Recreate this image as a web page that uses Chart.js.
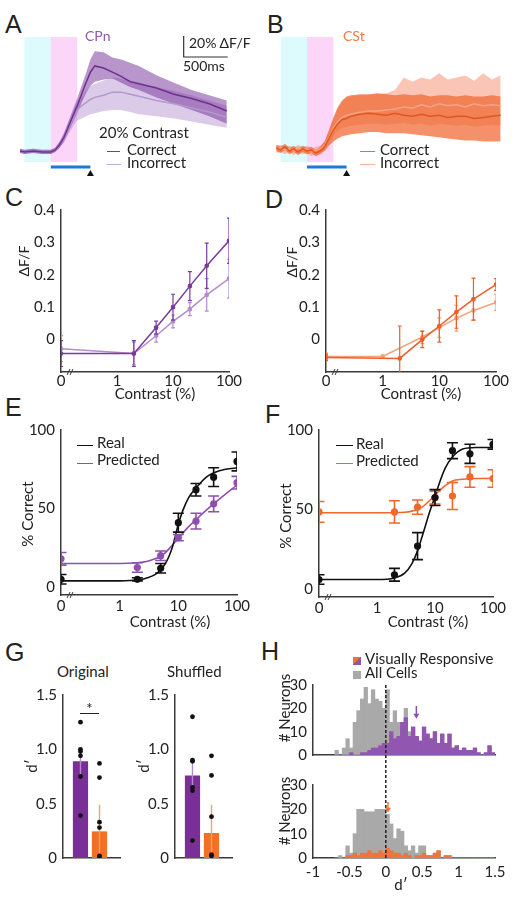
<!DOCTYPE html>
<html lang="en">
<head>
<meta charset="UTF-8">
<title>Figure</title>
<script src="https://cdn.jsdelivr.net/npm/chart.js"></script>
<style>
  body { margin: 0; background: #fff; width: 518px; height: 900px; position: relative; overflow: hidden;
         font-family: Lato, "Open Sans", sans-serif; color: #222; }
  canvas { position: absolute; }
  .t { position: absolute; white-space: nowrap; line-height: 1; font-size: 15px; }
  .s14 { font-size: 14px; }
  .L { font-family: "Liberation Sans", Arial, sans-serif; font-size: 25px; }
  .c { transform: translateX(-50%); }
  .r { transform: translate(-50%, -50%) rotate(-90deg); }
  .ln { position: absolute; height: 0; border-top: 1.6px solid; }
  .sq { position: absolute; width: 8px; height: 8px; }
</style>
</head>
<body>
<!-- panel letters -->
<div class="t L" style="left:5px;top:12px">A</div>
<div class="t L" style="left:267px;top:12px">B</div>
<div class="t L" style="left:5px;top:185px">C</div>
<div class="t L" style="left:265px;top:187px">D</div>
<div class="t L" style="left:5px;top:395px">E</div>
<div class="t L" style="left:265px;top:402px">F</div>
<div class="t L" style="left:5px;top:640px">G</div>
<div class="t L" style="left:261px;top:639px">H</div>

<canvas id="chA" width="220" height="150" style="left:20px;top:30px"></canvas>
<canvas id="chB" width="230" height="150" style="left:276px;top:30px"></canvas>
<canvas id="chC" width="250" height="220" style="left:0;top:195px"></canvas>
<canvas id="chD" width="250" height="220" style="left:265px;top:195px"></canvas>
<canvas id="chE" width="258" height="225" style="left:0;top:415px"></canvas>
<canvas id="chF" width="258" height="225" style="left:258px;top:415px"></canvas>
<canvas id="chG1" width="125" height="200" style="left:0;top:680px"></canvas>
<canvas id="chG2" width="125" height="200" style="left:112px;top:680px"></canvas>
<canvas id="chH1" width="255" height="100" style="left:258px;top:670px"></canvas>
<canvas id="chH2" width="255" height="130" style="left:258px;top:770px"></canvas>

<!-- A / B labels -->
<div class="t s14" style="left:85px;top:29px;color:#9058b0">CPn</div>
<div class="t s14" style="left:189px;top:36px">20% ΔF/F</div>
<div class="t s14" style="left:183px;top:59px">500ms</div>
<div class="t" style="left:99px;top:125px">20% Contrast</div>
<div class="ln" style="left:107px;top:151px;width:13px;color:#7a3b9a"></div>
<div class="t" style="left:127px;top:142px">Correct</div>
<div class="ln" style="left:107px;top:164px;width:14px;color:#c6a9da"></div>
<div class="t" style="left:127px;top:155px">Incorrect</div>
<div class="t s14" style="left:343px;top:29px;color:#f07a45">CSt</div>
<div class="ln" style="left:360px;top:151px;width:15px;color:#ee6a35"></div>
<div class="t" style="left:380px;top:142px">Correct</div>
<div class="ln" style="left:360px;top:164px;width:15px;color:#f6b49a"></div>
<div class="t" style="left:380px;top:155px">Incorrect</div>

<!-- C / D labels -->
<div class="t s14 r" style="left:24px;top:261px">ΔF/F</div>
<div class="t s14 r" style="left:292px;top:262px">ΔF/F</div>
<div class="t c" style="left:155px;top:386px">Contrast (%)</div>
<div class="t c" style="left:421px;top:386px">Contrast (%)</div>

<!-- E / F labels -->
<div class="t r" style="left:27px;top:514px">% Correct</div>
<div class="t r" style="left:285px;top:516px">% Correct</div>
<div class="t c" style="left:170px;top:614px">Contrast (%)</div>
<div class="t c" style="left:428px;top:614px">Contrast (%)</div>
<div class="ln" style="left:77px;top:445px;width:16px;color:#111"></div>
<div class="t" style="left:97px;top:435px">Real</div>
<div class="ln" style="left:77px;top:463px;width:16px;color:#8e4fb0"></div>
<div class="t" style="left:97px;top:452px">Predicted</div>
<div class="ln" style="left:336px;top:445px;width:17px;color:#111"></div>
<div class="t" style="left:356px;top:436px">Real</div>
<div class="ln" style="left:336px;top:463px;width:17px;color:#f0682c"></div>
<div class="t" style="left:356px;top:453px">Predicted</div>

<!-- G labels -->
<div class="t" style="left:57px;top:664px">Original</div>
<div class="t" style="left:167px;top:664px">Shuffled</div>
<div class="t r" style="left:31px;top:766px">d′</div>
<div class="t r" style="left:143px;top:766px">d′</div>
<div class="ln" style="left:80px;top:713px;width:19px;color:#222;border-top-width:1.2px"></div>
<div class="t c" style="left:89.5px;top:701px">*</div>

<!-- H labels -->
<div class="sq" style="left:353px;top:657px;background:linear-gradient(135deg,#f0743a 50%,#9156b0 50%)"></div>
<div class="t" style="left:365px;top:651px">Visually Responsive</div>
<div class="sq" style="left:353px;top:671px;background:#a9a9a9"></div>
<div class="t" style="left:365px;top:665px">All Cells</div>
<div class="t r" style="left:284px;top:708px"># Neurons</div>
<div class="t r" style="left:284px;top:811px"># Neurons</div>
<div class="t c" style="left:401px;top:877px">d′</div>

<script>
    // ---- A: CPn traces, 20% contrast (time in s, dF/F as fraction)
    const aTime = [-0.35, -0.3, -0.2, -0.1, 0, 0.05, 0.1, 0.15, 0.2, 0.25, 0.3, 0.35, 0.4, 0.45, 0.5, 0.6, 0.7, 0.8, 0.9, 1.0, 1.2, 1.4, 1.6, 1.8, 2.0];
    const aCorrMean = [0.01, 0, 0.01, 0, 0, 0.02, 0.07, 0.14, 0.24, 0.34, 0.44, 0.55, 0.66, 0.76, 0.82, 0.80, 0.76, 0.72, 0.67, 0.65, 0.61, 0.55, 0.51, 0.46, 0.39];
    const aCorrHi = [0.03, 0.02, 0.03, 0.02, 0.02, 0.04, 0.10, 0.18, 0.29, 0.40, 0.51, 0.63, 0.75, 0.88, 0.96, 0.95, 0.90, 0.88, 0.85, 0.82, 0.73, 0.66, 0.59, 0.54, 0.49];
    const aCorrLo = [-0.01, -0.02, -0.01, -0.02, -0.02, 0.00, 0.04, 0.10, 0.19, 0.28, 0.37, 0.47, 0.56, 0.63, 0.67, 0.69, 0.70, 0.66, 0.62, 0.59, 0.52, 0.46, 0.40, 0.34, 0.27];
    const aIncMean = [0.01, 0, 0.01, 0, 0, 0.02, 0.07, 0.13, 0.22, 0.31, 0.40, 0.44, 0.47, 0.50, 0.52, 0.54, 0.57, 0.57, 0.55, 0.53, 0.49, 0.46, 0.42, 0.38, 0.33];
    const aIncHi = [0.03, 0.02, 0.03, 0.02, 0.02, 0.04, 0.09, 0.16, 0.26, 0.36, 0.45, 0.52, 0.58, 0.63, 0.65, 0.68, 0.71, 0.70, 0.68, 0.66, 0.62, 0.58, 0.54, 0.49, 0.44];
    const aIncLo = [-0.01, -0.02, -0.01, -0.02, -0.02, 0.00, 0.04, 0.09, 0.17, 0.24, 0.30, 0.32, 0.34, 0.36, 0.37, 0.39, 0.40, 0.40, 0.38, 0.36, 0.34, 0.32, 0.29, 0.26, 0.23];

    // ---- B: CSt traces
    const bTime = [-0.35, -0.3, -0.25, -0.2, -0.15, -0.1, -0.05, 0, 0.05, 0.1, 0.15, 0.2, 0.25, 0.3, 0.35, 0.4, 0.45, 0.5, 0.6, 0.7, 0.8, 0.9, 1.0, 1.1, 1.2, 1.3, 1.4, 1.5, 1.6, 1.7, 1.8, 1.9, 2.0, 2.1, 2.2];
    const bCorrMean = [0.03, 0.01, 0.04, 0.00, 0.02, -0.01, 0.02, 0.00, 0.01, -0.02, 0.00, 0.04, 0.12, 0.20, 0.26, 0.30, 0.31, 0.33, 0.35, 0.36, 0.35, 0.34, 0.36, 0.34, 0.33, 0.35, 0.33, 0.34, 0.32, 0.33, 0.33, 0.31, 0.32, 0.33, 0.34];
    const bCorrHi = [0.06, 0.04, 0.07, 0.03, 0.05, 0.02, 0.05, 0.03, 0.04, 0.01, 0.04, 0.09, 0.20, 0.32, 0.42, 0.48, 0.52, 0.53, 0.54, 0.54, 0.55, 0.54, 0.53, 0.54, 0.53, 0.54, 0.52, 0.53, 0.53, 0.52, 0.53, 0.52, 0.52, 0.53, 0.52];
    const bCorrLo = [0.00, -0.02, 0.01, -0.03, -0.01, -0.04, -0.01, -0.03, -0.02, -0.05, -0.03, 0.00, 0.05, 0.09, 0.12, 0.14, 0.15, 0.16, 0.17, 0.18, 0.18, 0.17, 0.17, 0.17, 0.16, 0.15, 0.14, 0.13, 0.12, 0.11, 0.10, 0.10, 0.09, 0.09, 0.09];
    const bIncMean = [0.02, 0.03, 0.01, 0.02, 0.00, 0.03, 0.01, 0.02, -0.01, 0.01, 0.02, 0.05, 0.13, 0.22, 0.28, 0.32, 0.34, 0.35, 0.37, 0.38, 0.38, 0.39, 0.40, 0.42, 0.41, 0.44, 0.42, 0.45, 0.43, 0.44, 0.42, 0.45, 0.43, 0.44, 0.43];
    const bIncHi = [0.05, 0.06, 0.04, 0.05, 0.03, 0.06, 0.04, 0.05, 0.02, 0.04, 0.05, 0.09, 0.19, 0.30, 0.40, 0.47, 0.51, 0.52, 0.53, 0.53, 0.54, 0.55, 0.58, 0.70, 0.66, 0.70, 0.68, 0.74, 0.68, 0.70, 0.72, 0.67, 0.74, 0.68, 0.72];
    const bIncLo = [-0.02, -0.01, -0.03, -0.01, -0.04, -0.01, -0.03, -0.02, -0.05, -0.03, -0.02, 0.01, 0.07, 0.14, 0.19, 0.22, 0.23, 0.24, 0.25, 0.26, 0.26, 0.25, 0.26, 0.27, 0.25, 0.26, 0.24, 0.26, 0.25, 0.24, 0.25, 0.23, 0.24, 0.25, 0.24];

    // ---- C / D: dF/F vs contrast
    const contrasts = [0, 2, 5, 10, 20, 40, 100];
    const contrastTicks = [0, 1, 10, 100];
    const cCorr = [-0.043, -0.043, 0.037, 0.10, 0.165, 0.228, 0.305];
    const cCorrErr = [0.04, 0.04, 0.02, 0.04, 0.045, 0.07, 0.07];
    const cInc = [-0.028, -0.043, 0.012, 0.056, 0.094, 0.138, 0.188];
    const cIncErr = [0.04, 0.035, 0.02, 0.02, 0.02, 0.05, 0.06];
    const dCorr = [-0.055, -0.058, 0.0, 0.042, 0.085, 0.125, 0.17];
    const dCorrErr = [0.01, 0.1, 0.025, 0.05, 0.05, 0.065, 0.018];
    const dIncContrasts = [0, 1, 5, 10, 20, 40, 100];
    const dInc = [-0.052, -0.052, 0.008, 0.037, 0.066, 0.09, 0.115];
    const dIncErr = [0.01, null, 0.02, 0.03, 0.04, 0.03, 0.025];

    // ---- E / F: % correct, real vs predicted
    const eReal = [5, 5, 12, 41, 62, 70, 80];
    const eRealErr = [3, 1, 3, 6, 4, 6, 6];
    const ePred = [18, 12.5, 20, 31.5, 42, 53, 66.5];
    const ePredErr = [4, 3, 3, 2, 5, 5, 4];
    const fitContrasts = [0, 1, 2, 3, 4, 5, 6, 7, 8, 10, 12, 15, 20, 30, 50, 100];
    const eFitReal = [4, 4, 4.5, 6, 8, 11, 15, 20, 26, 40, 49, 57, 63, 70, 74, 76];
    const eFitPred = [15, 15, 15.5, 16.5, 18, 19.5, 22, 24.5, 27, 31, 34.5, 38.5, 43, 49, 56, 65];
    const fReal = [6, 9, 27, 57.5, 87, 85, 91];
    const fRealErr = [3, 4, 8.5, 5, 5, 6, 3];
    const fPred = [48.5, 48.5, 51.5, 57.5, 58.5, 70.5, 69.5];
    const fPredErr = [6.5, 7, 4.5, 4, 8.5, 6.5, 5.5];
    const fFitReal = [6, 6, 7, 10, 16, 24, 33, 41, 48, 58, 67, 76, 83, 88, 89, 89];
    const fFitPred = [48, 48, 48, 48.3, 49, 50, 51.5, 53.5, 55.5, 59, 62, 65, 68, 69, 69.5, 69.5];

    // ---- G: decoder d' (CPn, CSt)
    const gGroups = [1, 2];
    const gOrigMean = [0.89, 0.245];
    const gOrigErr = [0.13, 0.245];
    const gOrigCPn = [1.25, 1.0, 0.98, 0.94, 0.75, 0.39];
    const gOrigCSt = [0.87, 0.74, 0.33, 0.28, 0.02, 0.01];
    const gShufMean = [0.76, 0.23];
    const gShufErr = [0.13, 0.26];
    const gShufCPn = [1.3, 0.9, 0.89, 0.65, 0.62, 0.16];
    const gShufCSt = [0.94, 0.76, 0.38, 0.03, 0.02];

    // ---- H: d' histograms (bin centres, width 0.05)
    const hBins = [-0.675, -0.625, -0.575, -0.525, -0.475, -0.425, -0.375, -0.325, -0.275, -0.225, -0.175, -0.125, -0.075, -0.025, 0.025, 0.075, 0.125, 0.175, 0.225, 0.275, 0.325, 0.375, 0.425, 0.475, 0.525, 0.575, 0.625, 0.675, 0.725, 0.775, 0.825, 0.875, 0.925, 0.975, 1.025, 1.075, 1.125, 1.175, 1.225, 1.275, 1.325, 1.375, 1.425, 1.475];
    const hTopVR = [0, 0, 0, 0, 1, 0, 0, 1, 1, 2, 3, 3, 4, 5, 5, 10, 7, 8, 14, 16, 8, 12, 8, 6, 12, 9, 7, 10, 5, 9, 5, 9, 3, 4, 2, 3, 2, 2, 3, 1, 0, 1, 4, 1];
    const hTopAll = [2, 0, 3, 7, 3, 14, 19, 24, 29, 22, 28, 24, 23, 20, 28, 14, 19, 14, 14, 20, 10, 12, 8, 6, 12, 9, 7, 10, 5, 9, 5, 9, 3, 4, 2, 3, 2, 2, 3, 1, 0, 1, 4, 1];
    const hBotVR = [0, 0, 0, 1, 1, 2, 1, 2, 2, 3, 2, 2, 3, 2, 4, 3, 2, 2, 1, 2, 1, 0, 1, 1, 2, 1, 1, 2, 3, 0, 1, 1, 0, 0, 0, 0, 0, 0, 0, 0, 0, 0, 0, 0];
    const hBotAll = [0, 1, 0, 5, 2, 10, 20, 20, 19, 19, 19, 20, 20, 20, 18, 14, 8, 12, 11, 5, 3, 5, 2, 5, 5, 1, 1, 2, 3, 0, 1, 1, 0, 0, 0, 0, 0, 0, 0, 0, 0, 0, 0, 0];
    const hTopArrow = 0.42;   // mean d' CPn
    const hBotArrow = 0.03;   // mean d' CSt

    const xZero = 0.1; // where contrast 0 sits on the log axis
    const AX = '#3a3a3a';
    const PURPLE = '#7a3b9a', PURPLE_L = '#b48cd0', ORANGE = '#ee5f27', ORANGE_L = '#f5a27a';

    Chart.defaults.font.family = 'Lato, "Open Sans", sans-serif';
    Chart.defaults.font.size = 15;
    Chart.defaults.color = '#222';
    Chart.defaults.animation = false;
    Chart.defaults.responsive = false;
    Chart.defaults.plugins.legend.display = false;
    Chart.defaults.plugins.tooltip.enabled = false;

    const fixW = w => s => { s.width = w; };
    const fixH = h => s => { s.height = h; };
    const setTicks = vals => s => { s.ticks = vals.map(v => ({ value: v })); };
    const pts = (xs, ys) => xs.map((x, i) => ({ x, y: ys[i] }));
    const cpts = (xs, ys) => xs.map((c, i) => ({ x: c === 0 ? xZero : c, y: ys[i] }));

    function yScale(min, max, w, ticks, fmt) {
        return {
            type: 'linear', min, max, afterFit: fixW(w), afterBuildTicks: setTicks(ticks),
            grid: { display: false, drawTicks: false }, border: { color: AX, width: 1.5 },
            ticks: { padding: 6, callback: fmt || (v => String(v)) }
        };
    }
    function logX(h, pad) {
        return {
            type: 'logarithmic', min: xZero, max: 100, afterFit: fixH(h),
            afterBuildTicks: setTicks(contrastTicks.map(c => c === 0 ? xZero : c)),
            grid: { display: false, drawTicks: false }, border: { color: AX, width: 1.5 },
            ticks: { padding: pad, autoSkip: false, maxRotation: 0, callback: v => v === xZero ? '0' : String(v) }
        };
    }

    // vertical error bars, drawn right after their own dataset so later marks sit on top
    const errorBars = {
        id: 'errorBars',
        afterDatasetDraw(chart, args) {
            const ds = chart.data.datasets[args.index];
            if (!ds.errors) return;
            const { ctx, chartArea: a, scales: { y } } = chart;
            ctx.save();
            ctx.beginPath();
            ctx.rect(a.left, a.top - 3, a.right - a.left, a.bottom - a.top + 3);
            ctx.clip();
            args.meta.data.forEach((el, j) => {
                const e = ds.errors[j];
                if (e == null) return;
                const v = ds.data[j].y;
                const x = el.x, y1 = y.getPixelForValue(v + e), y2 = y.getPixelForValue(v - e);
                const c = (ds.capWidth || 0) / 2;
                ctx.strokeStyle = Array.isArray(ds.errorColor) ? ds.errorColor[j] : (ds.errorColor || ds.borderColor);
                ctx.lineWidth = ds.errorWidth || 1.3;
                ctx.beginPath();
                ctx.moveTo(x, y1); ctx.lineTo(x, y2);
                if (c) {
                    ctx.moveTo(x - c, y1); ctx.lineTo(x + c, y1);
                    ctx.moveTo(x - c, y2); ctx.lineTo(x + c, y2);
                }
                ctx.stroke();
            });
            ctx.restore();
        }
    };

    // little "//" break near the zero position on the log axis
    const axisBreak = {
        id: 'axisBreak',
        afterDraw(chart) {
            const { ctx, chartArea: a } = chart;
            const y = a.bottom, x = a.left + 9;
            ctx.save();
            ctx.strokeStyle = AX; ctx.lineWidth = 1;
            ctx.beginPath();
            ctx.moveTo(x - 3, y + 3); ctx.lineTo(x, y - 3);
            ctx.moveTo(x, y + 3); ctx.lineTo(x + 3, y - 3);
            ctx.stroke();
            ctx.restore();
        }
    };

    // stimulus shading, stimulus bar, response marker and scale bar for A/B
    const stim = {
        id: 'stim',
        beforeDraw(chart, args, o) {
            const { ctx, scales: { x, y } } = chart;
            const t = y.getPixelForValue(o.top), b = y.getPixelForValue(o.bottom);
            o.bands.forEach(bd => {
                const l = x.getPixelForValue(bd.from), r = x.getPixelForValue(bd.to);
                ctx.fillStyle = bd.color;
                ctx.fillRect(l, t, r - l, b - t);
            });
        },
        afterDraw(chart, args, o) {
            const { ctx, scales: { x, y } } = chart;
            ctx.save();
            const by = y.getPixelForValue(o.barY);
            ctx.strokeStyle = '#1b7bd4'; ctx.lineWidth = 3;
            ctx.beginPath();
            ctx.moveTo(x.getPixelForValue(0), by); ctx.lineTo(x.getPixelForValue(o.barEnd), by);
            ctx.stroke();
            const mx = x.getPixelForValue(o.barEnd), my = y.getPixelForValue(o.markY);
            ctx.fillStyle = '#111';
            ctx.beginPath();
            ctx.moveTo(mx, my - 3); ctx.lineTo(mx + 3.5, my + 3); ctx.lineTo(mx - 3.5, my + 3);
            ctx.closePath(); ctx.fill();
            if (o.scaleBar) {
                const s = o.scaleBar;
                const x0 = x.getPixelForValue(s.x), y0 = y.getPixelForValue(s.y);
                ctx.strokeStyle = '#333'; ctx.lineWidth = 1.2;
                ctx.beginPath();
                ctx.moveTo(x0, y.getPixelForValue(s.y + s.dy)); ctx.lineTo(x0, y0);
                ctx.lineTo(x.getPixelForValue(s.x + s.dx), y0);
                ctx.stroke();
            }
            ctx.restore();
        }
    };

    function trace(t, vals, color) {
        return { data: pts(t, vals), borderColor: color, borderWidth: 1.5, pointRadius: 0, fill: false };
    }
    function band(t, hi, lo, color) {
        return [
            { data: pts(t, hi), fill: '+1', backgroundColor: color, borderWidth: 0, pointRadius: 0 },
            { data: pts(t, lo), fill: false, borderWidth: 0, pointRadius: 0 }
        ];
    }
    function traceChart(id, t, sets, xr, yr, stimOpts) {
        new Chart(document.getElementById(id), {
            type: 'line',
            data: { datasets: sets },
            options: {
                layout: { padding: 0 },
                scales: {
                    x: { type: 'linear', display: false, min: xr[0], max: xr[1] },
                    y: { display: false, min: yr[0], max: yr[1] }
                },
                plugins: { filler: { drawTime: 'beforeDatasetsDraw', propagate: false }, stim: stimOpts }
            },
            plugins: [stim]
        });
    }

    const stimBands = [{ from: -0.3, to: 0, color: '#ddfbfd' }, { from: 0, to: 0.3, color: '#fbd6f8' }];

    traceChart('chA', aTime, [
        trace(aTime, aCorrMean, '#6e3090'),
        trace(aTime, aIncMean, '#b696cc'),
        ...band(aTime, aCorrHi, aCorrLo, 'rgba(125, 62, 160, 0.55)'),
        ...band(aTime, aIncHi, aIncLo, 'rgba(178, 140, 205, 0.45)')
    ], [-0.35, 2.15], [-0.267, 1.162], {
        bands: stimBands, top: 1.095, bottom: -0.095, barY: -0.143, barEnd: 0.45, markY: -0.2,
        scaleBar: { x: 1.51, y: 0.905, dx: 0.5, dy: 0.2 }
    });

    traceChart('chB', bTime, [
        trace(bTime, bCorrMean, '#e3561f'),
        trace(bTime, bIncMean, '#f4a388'),
        ...band(bTime, bCorrHi, bCorrLo, 'rgba(240, 102, 48, 0.72)'),
        ...band(bTime, bIncHi, bIncLo, 'rgba(245, 150, 118, 0.55)')
    ], [-0.352, 2.261], [-0.276, 1.152], {
        bands: stimBands, top: 1.086, bottom: -0.105, barY: -0.152, barEnd: 0.45, markY: -0.21
    });

    // C and D
    function respChart(id, corrX, corr, corrErr, incX, inc, incErr, cCol, iCol, padR) {
        const mk = (xs, ys, errs, col) => ({
            data: cpts(xs, ys), borderColor: col, backgroundColor: col, borderWidth: 1.5,
            pointRadius: 1.6, errors: errs, capWidth: 4, errorWidth: 1.2
        });
        new Chart(document.getElementById(id), {
            type: 'line',
            data: { datasets: [mk(corrX, corr, corrErr, cCol), mk(incX, inc, incErr, iCol)] },
            options: {
                layout: { padding: { top: 12, right: padR, left: 0, bottom: 0 } },
                scales: {
                    x: logX(43, 0),
                    y: yScale(-0.1, 0.4, 61, [0, 0.1, 0.2, 0.3, 0.4], v => v === 0 ? '0' : v.toFixed(1))
                }
            },
            plugins: [errorBars, axisBreak]
        });
    }
    respChart('chC', contrasts, cCorr, cCorrErr, contrasts, cInc, cIncErr, PURPLE, PURPLE_L, 21);
    respChart('chD', contrasts, dCorr, dCorrErr, dIncContrasts, dInc, dIncErr, ORANGE, ORANGE_L, 19);

    // E and F
    function perfChart(id, real, realErr, pred, predErr, fitReal, fitPred, predCol, padT, xh, padR) {
        const dots = (ys, errs, col) => ({
            data: cpts(contrasts, ys), showLine: false, pointRadius: 3.6, borderWidth: 0,
            backgroundColor: col, borderColor: col, errors: errs, capWidth: 11, errorWidth: 1.6
        });
        const fit = (ys, col) => ({
            data: cpts(fitContrasts, ys), borderColor: col, borderWidth: 1.6, pointRadius: 0,
            cubicInterpolationMode: 'monotone'
        });
        new Chart(document.getElementById(id), {
            type: 'line',
            data: { datasets: [dots(real, realErr, '#111'), dots(pred, predErr, predCol), fit(fitReal, '#111'), fit(fitPred, predCol)] },
            options: {
                layout: { padding: { top: padT, right: padR, left: 0, bottom: 0 } },
                scales: { x: logX(xh, 2), y: yScale(-5, 100, 61, [0, 50, 100]) }
            },
            plugins: [errorBars, axisBreak]
        });
    }
    perfChart('chE', eReal, eRealErr, ePred, ePredErr, eFitReal, eFitPred, '#8e4fb0', 13, 45, 21);
    perfChart('chF', fReal, fRealErr, fPred, fPredErr, fFitReal, fFitPred, '#f0682c', 15, 43, 23);

    // G
    function dprimeChart(id, means, errs, cpn, cst) {
        const dots = (vals, g) => ({
            type: 'line', data: vals.map(v => ({ x: gGroups[g], y: v })), showLine: false,
            pointRadius: 2.4, pointBackgroundColor: '#111', backgroundColor: '#111', borderWidth: 0
        });
        new Chart(document.getElementById(id), {
            type: 'bar',
            data: {
                datasets: [
                    dots(cpn, 0), dots(cst, 1),
                    {
                        data: pts(gGroups, means), backgroundColor: ['#7a2f96', '#f36f25'],
                        barPercentage: 0.8, categoryPercentage: 1, errors: errs,
                        errorColor: ['#b48ad0', '#f6a06a'], errorWidth: 1.4
                    }
                ]
            },
            options: {
                layout: { padding: { top: 13, right: 5, left: 0, bottom: 0 } },
                scales: {
                    x: {
                        type: 'linear', min: 0.08, max: 3.08, offset: false, afterFit: fixH(22),
                        grid: { display: false, drawTicks: false }, border: { color: AX, width: 1.5 },
                        ticks: { display: false }
                    },
                    y: yScale(0, 1.5, 63, [0, 0.5, 1, 1.5], v => v === 0 ? '0' : v.toFixed(1))
                }
            },
            plugins: [errorBars]
        });
    }
    dprimeChart('chG1', gOrigMean, gOrigErr, gOrigCPn, gOrigCSt);
    dprimeChart('chG2', gShufMean, gShufErr, gShufCPn, gShufCSt);

    // H
    const hMarks = {
        id: 'hMarks',
        afterDatasetsDraw(chart, args, o) {
            const { ctx, chartArea: a, scales: { x, y } } = chart;
            ctx.save();
            const zx = x.getPixelForValue(0);
            ctx.setLineDash([3, 2]); ctx.strokeStyle = '#222'; ctx.lineWidth = 1.5;
            ctx.beginPath();
            ctx.moveTo(zx, o.top ? a.top : 0); ctx.lineTo(zx, o.top ? chart.height : a.bottom);
            ctx.stroke();
            ctx.setLineDash([]);
            const ax = x.getPixelForValue(o.arrow.x), y1 = y.getPixelForValue(o.arrow.from), y2 = y.getPixelForValue(o.arrow.to);
            ctx.strokeStyle = o.arrow.color; ctx.fillStyle = o.arrow.color; ctx.lineWidth = 1.5;
            ctx.beginPath(); ctx.moveTo(ax, y1); ctx.lineTo(ax, y2 - 3); ctx.stroke();
            ctx.beginPath(); ctx.moveTo(ax - 3, y2 - 4); ctx.lineTo(ax + 3, y2 - 4); ctx.lineTo(ax, y2 + 1); ctx.closePath(); ctx.fill();
            ctx.restore();
        }
    };
    function histChart(id, vr, all, vrCol, top, xh, arrow) {
        const bars = (vals, col) => ({
            data: pts(hBins, vals), backgroundColor: col, borderWidth: 0, grouped: false,
            barPercentage: 1, categoryPercentage: 1
        });
        new Chart(document.getElementById(id), {
            type: 'bar',
            data: { datasets: [bars(vr, vrCol), bars(all, '#a9a9a9')] },
            options: {
                layout: { padding: { top: 12, right: 18, left: 0, bottom: 0 } },
                scales: {
                    x: {
                        type: 'linear', min: -1, max: 1.5, offset: false, afterFit: fixH(xh),
                        afterBuildTicks: setTicks([-1, -0.5, 0, 0.5, 1, 1.5]),
                        grid: { display: false, drawTicks: false }, border: { color: AX, width: 1.5 },
                        ticks: { display: !top, padding: 5, autoSkip: false, maxRotation: 0, callback: v => String(v) }
                    },
                    y: yScale(0, 30, 55, [0, 10, 20, 30])
                },
                plugins: { hMarks: { top, arrow } }
            },
            plugins: [hMarks]
        });
    }
    histChart('chH1', hTopVR, hTopAll, '#9156b0', true, 11, { x: hTopArrow, from: 21, to: 16, color: '#8a4fa8' });
    histChart('chH2', hBotVR, hBotAll, '#f0743a', false, 42, { x: hBotArrow, from: 23, to: 19, color: '#f0743a' });
</script>
</body>
</html>
